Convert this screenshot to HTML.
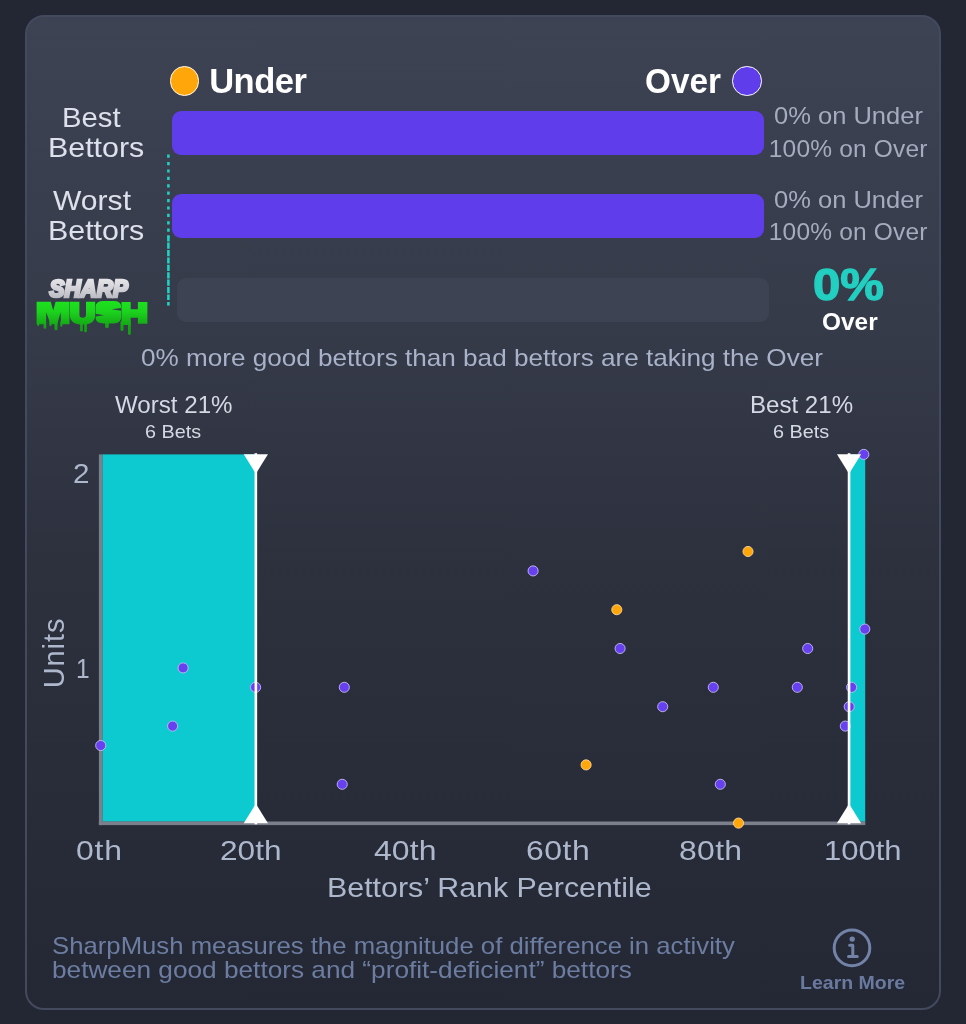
<!DOCTYPE html>
<html lang="en"><head><meta charset="utf-8"><title>SharpMush</title>
<style>
*{margin:0;padding:0;box-sizing:border-box}
html,body{width:966px;height:1024px;overflow:hidden}
body{background:#232733;font-family:"Liberation Sans",sans-serif;position:relative}
.card{position:absolute;left:25px;top:15px;width:916px;height:995px;border-radius:19px;
 border:2px solid #434a5e;background:linear-gradient(180deg,#3d4353 0%,#363b4a 30%,#2d313e 55%,#242835 100%)}
.t{position:absolute;white-space:nowrap;line-height:1;transform-origin:0 0}
.bar{position:absolute;border-radius:9px}
.dot{position:absolute;border-radius:50%}
svg{position:absolute;left:0;top:0;will-change:transform}
.txt{position:absolute;left:0;top:0;width:966px;height:1024px;will-change:transform}
</style></head><body>
<div class="card"></div>
<div class="dot" style="left:169.6px;top:66px;width:29.6px;height:29.6px;background:#ffa60a;border:1.7px solid #fffaf0"></div>
<div class="dot" style="left:732.4px;top:66px;width:29.6px;height:29.6px;background:#5f3dea;border:1.7px solid #ffffff"></div>
<div class="bar" style="left:172px;top:110.5px;width:592px;height:44.2px;background:#5f3dea"></div>
<div class="bar" style="left:172px;top:194.2px;width:592px;height:44.2px;background:#5f3dea"></div>
<div class="bar" style="left:177px;top:277.7px;width:592px;height:44.3px;background:#3e4353"></div>
<svg width="966" height="1024" viewBox="0 0 966 1024">
<defs><linearGradient id="gs" x1="0" y1="0" x2="0" y2="1"><stop offset="0" stop-color="#ececef"/><stop offset="0.5" stop-color="#d2d2d8"/><stop offset="1" stop-color="#b2b3bb"/></linearGradient><linearGradient id="gm" x1="0" y1="0" x2="0" y2="1"><stop offset="0" stop-color="#21dc23"/><stop offset="0.45" stop-color="#1fd321"/><stop offset="1" stop-color="#0f9f17"/></linearGradient><linearGradient id="gm2" gradientUnits="userSpaceOnUse" x1="0" y1="301" x2="0" y2="327"><stop offset="0" stop-color="#1de21f"/><stop offset="0.4" stop-color="#1cd31e"/><stop offset="1" stop-color="#13a214"/></linearGradient></defs>
<line x1="168.4" y1="154.6" x2="168.4" y2="238" stroke="#22cfc0" stroke-width="2.6" stroke-dasharray="3.2 4.2"/>
<line x1="168.4" y1="235.2" x2="168.4" y2="300" stroke="#22cfc0" stroke-width="2.6" stroke-dasharray="6.2 1.2"/>
<line x1="168.4" y1="302" x2="168.4" y2="305.6" stroke="#22cfc0" stroke-width="2.6"/>
<rect x="102.3" y="454.4" width="153.3" height="367.3" fill="#0ccacf"/>
<rect x="849.5" y="454.4" width="15.7" height="367.3" fill="#0ccacf"/>
<rect x="98.9" y="454.4" width="3.5" height="370.7" fill="#7c808c"/>
<rect x="98.9" y="821.5" width="766.4" height="3.6" fill="#7c808c"/>
<circle cx="863.8" cy="454.4" r="5.05" fill="#6741ef" stroke="#c4bcf3" stroke-width="0.9"/>
<circle cx="748.0" cy="551.5" r="5.05" fill="#ffa60a" stroke="#ffd794" stroke-width="0.9"/>
<circle cx="533.1" cy="570.9" r="5.05" fill="#6741ef" stroke="#c4bcf3" stroke-width="0.9"/>
<circle cx="616.8" cy="609.7" r="5.05" fill="#ffa60a" stroke="#ffd794" stroke-width="0.9"/>
<circle cx="864.8" cy="629.1" r="5.05" fill="#6741ef" stroke="#c4bcf3" stroke-width="0.9"/>
<circle cx="620.1" cy="648.5" r="5.05" fill="#6741ef" stroke="#c4bcf3" stroke-width="0.9"/>
<circle cx="807.7" cy="648.5" r="5.05" fill="#6741ef" stroke="#c4bcf3" stroke-width="0.9"/>
<circle cx="183.1" cy="667.9" r="5.05" fill="#6741ef" stroke="#c4bcf3" stroke-width="0.9"/>
<circle cx="255.6" cy="687.3" r="5.05" fill="#6741ef" stroke="#c4bcf3" stroke-width="0.9"/>
<circle cx="344.3" cy="687.3" r="5.05" fill="#6741ef" stroke="#c4bcf3" stroke-width="0.9"/>
<circle cx="713.3" cy="687.3" r="5.05" fill="#6741ef" stroke="#c4bcf3" stroke-width="0.9"/>
<circle cx="797.3" cy="687.3" r="5.05" fill="#6741ef" stroke="#c4bcf3" stroke-width="0.9"/>
<circle cx="851.6" cy="687.3" r="5.05" fill="#6741ef" stroke="#c4bcf3" stroke-width="0.9"/>
<circle cx="662.7" cy="706.7" r="5.05" fill="#6741ef" stroke="#c4bcf3" stroke-width="0.9"/>
<circle cx="849.2" cy="706.7" r="5.05" fill="#6741ef" stroke="#c4bcf3" stroke-width="0.9"/>
<circle cx="172.6" cy="726.1" r="5.05" fill="#6741ef" stroke="#c4bcf3" stroke-width="0.9"/>
<circle cx="845.3" cy="726.1" r="5.05" fill="#6741ef" stroke="#c4bcf3" stroke-width="0.9"/>
<circle cx="100.7" cy="745.5" r="5.05" fill="#6741ef" stroke="#c4bcf3" stroke-width="0.9"/>
<circle cx="586.1" cy="764.9" r="5.05" fill="#ffa60a" stroke="#ffd794" stroke-width="0.9"/>
<circle cx="342.2" cy="784.3" r="5.05" fill="#6741ef" stroke="#c4bcf3" stroke-width="0.9"/>
<circle cx="720.3" cy="784.3" r="5.05" fill="#6741ef" stroke="#c4bcf3" stroke-width="0.9"/>
<circle cx="738.5" cy="823.1" r="5.05" fill="#ffa60a" stroke="#ffd794" stroke-width="0.9"/>
<rect x="254.55" y="453.2" width="2.6" height="371.1" fill="#ffffff"/>
<path d="M243.75 454.2 L267.95 454.2 L255.85 473.7 Z" fill="#ffffff"/>
<path d="M243.75 823.3 L267.95 823.3 L255.85 803.7 Z" fill="#ffffff"/>
<rect x="847.75" y="453.2" width="2.6" height="371.1" fill="#ffffff"/>
<path d="M836.95 454.2 L861.15 454.2 L849.05 473.7 Z" fill="#ffffff"/>
<path d="M836.95 823.3 L861.15 823.3 L849.05 803.7 Z" fill="#ffffff"/>
<circle cx="852" cy="947.9" r="17.8" fill="none" stroke="#7383a8" stroke-width="3"/>
<circle cx="852.2" cy="939.1" r="2.7" fill="#7383a8"/>
<path d="M849.6 945.3 H852.8 V956.6 M848.5 956.6 H857.3" fill="none" stroke="#7383a8" stroke-width="3" stroke-linecap="round" stroke-linejoin="round"/>

<g id="logo">
<text x="49.5" y="296.6" font-family="Liberation Sans, sans-serif" font-weight="700" font-style="italic" font-size="23.4" fill="url(#gs)" stroke="url(#gs)" stroke-width="2.7" stroke-linejoin="miter" textLength="78.4" lengthAdjust="spacingAndGlyphs">SHARP</text>
<g fill="url(#gm2)" stroke="none">
<path d="M36.6 301.8 L50.7 301.8 L53.2 310.4 L55.6 301.8 L69.5 301.8 L69.5 324.3 L61 324.3 L60.6 312.2 L57.2 324.3 L50.4 324.3 L46.3 312.2 L46 324.3 L36.6 324.3 Z"/>
<path d="M69.9 301.8 H79.4 V314.5 Q79.4 317.8 82.7 317.8 Q86 317.8 86 314.5 V301.8 H95.2 V315 Q95.2 324.6 82.55 324.6 Q69.9 324.6 69.9 315 Z"/>
<path d="M103.5 301.1 H113.5 Q121.1 301.1 121.1 306.6 L121.1 307.9 L111.6 309.2 L121.1 310.8 V317.6 Q121.1 323.4 113.5 323.4 H103.5 Q95.6 323.4 95.6 317.8 L95.6 316.5 L104 315.2 L95.6 313.7 V306.8 Q95.6 301.1 103.5 301.1 Z"/>
<path d="M121.5 302.1 H130.7 V309.3 H137.9 V302.1 H147.4 V323.8 H137.9 V317.8 H130.7 V325 H121.5 Z"/>
<rect x="37.1" y="321" width="2.1" height="5" rx="1"/>
<rect x="43.6" y="321" width="2.6" height="7.7" rx="1.3"/>
<rect x="49.4" y="321" width="2.1" height="5" rx="1"/>
<rect x="54.5" y="321" width="3" height="9.2" rx="1.5"/>
<rect x="60.3" y="321" width="2.1" height="5.7" rx="1"/>
<rect x="80.1" y="321" width="2.7" height="10.5" rx="1.3"/>
<rect x="84.2" y="321" width="2.7" height="11.2" rx="1.3"/>
<rect x="105.1" y="321" width="3.7" height="7.1" rx="1.4"/>
<rect x="120.5" y="321" width="3" height="10.1" rx="1.5"/>
<rect x="128" y="321" width="2.8" height="14" rx="1.4"/>
</g>
</g>

</svg>
<div class="txt">
<div class="t" id="under" style="left:209.20px;top:64.41px;font-size:34.5px;font-weight:700;color:#ffffff;letter-spacing:-0.484px;">Under</div>
<div class="t" id="over" style="left:644.89px;top:64.41px;font-size:34.5px;font-weight:700;color:#ffffff;letter-spacing:0.000px;transform:scaleX(0.9652);">Over</div>
<div class="t" id="best" style="left:62.25px;top:103.81px;font-size:28px;font-weight:400;color:#dde1ec;letter-spacing:0.000px;transform:scaleX(1.0448);">Best</div>
<div class="t" id="bet1" style="left:47.99px;top:133.50px;font-size:28px;font-weight:400;color:#dde1ec;letter-spacing:-0.000px;transform:scaleX(1.0854);">Bettors</div>
<div class="t" id="worst" style="left:53.21px;top:187.21px;font-size:28px;font-weight:400;color:#dde1ec;letter-spacing:0.000px;transform:scaleX(1.0742);">Worst</div>
<div class="t" id="bet2" style="left:47.99px;top:216.91px;font-size:28px;font-weight:400;color:#dde1ec;letter-spacing:-0.000px;transform:scaleX(1.0854);">Bettors</div>
<div class="t" id="p1" style="left:773.94px;top:104.10px;font-size:24.5px;font-weight:400;color:#a4acbd;letter-spacing:0.000px;transform:scaleX(1.0411);">0% on Under</div>
<div class="t" id="p2" style="left:768.78px;top:136.51px;font-size:24.5px;font-weight:400;color:#a4acbd;letter-spacing:0.179px;">100% on Over</div>
<div class="t" id="p3" style="left:773.94px;top:187.60px;font-size:24.5px;font-weight:400;color:#a4acbd;letter-spacing:0.000px;transform:scaleX(1.0411);">0% on Under</div>
<div class="t" id="p4" style="left:768.78px;top:219.91px;font-size:24.5px;font-weight:400;color:#a4acbd;letter-spacing:0.179px;">100% on Over</div>
<div class="t" id="big" style="left:813.10px;top:262.90px;font-size:44.5px;font-weight:700;color:#22cfc0;letter-spacing:0.000px;transform:scaleX(1.1039);-webkit-text-stroke:1.3px #22cfc0;">0%</div>
<div class="t" id="over2" style="left:821.52px;top:311.20px;font-size:23.5px;font-weight:700;color:#ffffff;letter-spacing:0.000px;transform:scaleX(1.0385);">Over</div>
<div class="t" id="more" style="left:141.10px;top:346.31px;font-size:24px;font-weight:400;color:#a8b2c8;letter-spacing:0.000px;transform:scaleX(1.0875);">0% more good bettors than bad bettors are taking the Over</div>
<div class="t" id="w21" style="left:114.58px;top:393.71px;font-size:23px;font-weight:400;color:#d5d9e4;letter-spacing:0.000px;transform:scaleX(1.0492);">Worst 21%</div>
<div class="t" id="w6" style="left:144.68px;top:423.01px;font-size:18.5px;font-weight:400;color:#d5d9e4;letter-spacing:-0.000px;transform:scaleX(1.0688);">6 Bets</div>
<div class="t" id="b21" style="left:749.83px;top:393.71px;font-size:23px;font-weight:400;color:#d5d9e4;letter-spacing:-0.000px;transform:scaleX(1.0469);">Best 21%</div>
<div class="t" id="b6" style="left:773.10px;top:423.01px;font-size:18.5px;font-weight:400;color:#d5d9e4;letter-spacing:0.000px;transform:scaleX(1.0718);">6 Bets</div>
<div class="t" id="y2" style="left:73.12px;top:459.41px;font-size:28.5px;font-weight:400;color:#aeb8cc;letter-spacing:0.000px;transform:scaleX(1.0400);">2</div>
<div class="t" id="y1" style="left:76.43px;top:653.60px;font-size:28.5px;font-weight:400;color:#aeb8cc;letter-spacing:0.000px;transform:scaleX(0.8600);">1</div>
<div class="t" id="x0" style="left:76.47px;top:836.00px;font-size:28.5px;font-weight:400;color:#aeb8cc;letter-spacing:0.754px;transform:scaleX(1.1200);">0th</div>
<div class="t" id="x20" style="left:219.94px;top:836.00px;font-size:28.5px;font-weight:400;color:#aeb8cc;letter-spacing:0.000px;transform:scaleX(1.1091);">20th</div>
<div class="t" id="x40" style="left:374.00px;top:836.00px;font-size:28.5px;font-weight:400;color:#aeb8cc;letter-spacing:0.086px;transform:scaleX(1.1200);">40th</div>
<div class="t" id="x60" style="left:526.10px;top:836.00px;font-size:28.5px;font-weight:400;color:#aeb8cc;letter-spacing:0.464px;transform:scaleX(1.1200);">60th</div>
<div class="t" id="x80" style="left:679.10px;top:836.00px;font-size:28.5px;font-weight:400;color:#aeb8cc;letter-spacing:0.291px;transform:scaleX(1.1200);">80th</div>
<div class="t" id="x100" style="left:823.78px;top:836.00px;font-size:28.5px;font-weight:400;color:#aeb8cc;letter-spacing:0.000px;transform:scaleX(1.0879);">100th</div>
<div class="t" id="xl" style="left:326.83px;top:873.81px;font-size:27.7px;font-weight:400;color:#aeb8cc;letter-spacing:0.000px;transform:scaleX(1.0970);">Bettors’ Rank Percentile</div>
<div class="t" id="d1" style="left:52.10px;top:933.60px;font-size:24px;font-weight:400;color:#6c7da1;letter-spacing:0.000px;transform:scaleX(1.0716);">SharpMush measures the magnitude of difference in activity</div>
<div class="t" id="d2" style="left:52.10px;top:958.01px;font-size:24px;font-weight:400;color:#6c7da1;letter-spacing:0.000px;transform:scaleX(1.0920);">between good bettors and “profit-deficient” bettors</div>
<div class="t" id="learn" style="left:800.10px;top:973.61px;font-size:18.6px;font-weight:700;color:#6a7a9f;letter-spacing:-0.000px;transform:scaleX(1.0497);">Learn More</div>
<div class="t" id="units" style="left:53.5px;top:653px;font-size:29px;color:#aeb8cc;letter-spacing:0.9px;transform-origin:50% 50%;transform:translate(-50%,-50%) rotate(-90deg);">Units</div>
</div>
</body></html>
